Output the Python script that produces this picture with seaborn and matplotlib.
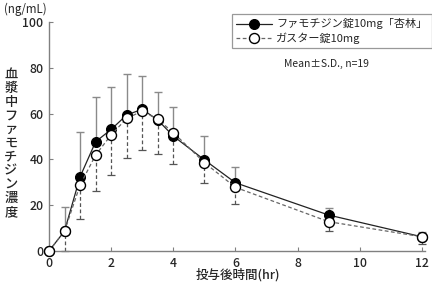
import matplotlib
matplotlib.use("Agg")
import matplotlib.pyplot as plt
import seaborn as sns
import pandas as pd
import numpy as np

times = [0, 0.5, 1, 1.5, 2, 2.5, 3, 3.5, 4, 5, 6, 9, 12]
kyorin_mean = [0, 8.7, 32.4, 47.7, 53.1, 59.4, 61.9, 57.2, 50.2, 39.8, 29.8, 15.7, 6.2]
kyorin_sd = [0, 10.4, 19.4, 19.4, 18.4, 17.9, 14.7, 12.2, 12.6, 10.3, 7.0, 3.2, 2.2]
gaster_mean = [0, 8.7, 28.8, 41.9, 50.7, 57.9, 61.1, 57.5, 51.7, 38.6, 27.8, 12.8, 6.2]
gaster_sd = [0, 8.5, 14.8, 15.7, 17.5, 17.1, 17.0, 15.1, 13.8, 9.0, 7.4, 4.1, 3.2]
series_names = ["ファモチジン錠10mg「杏林」", "ガスター錠10mg"]
x_ticks = [0, 2, 4, 6, 8, 10, 12]
y_ticks = [0, 20, 40, 60, 80, 100]

sns.set_style("white")
plt.rcParams['font.family'] = ['Noto Sans CJK JP', 'DejaVu Sans']

fig = plt.figure(figsize=(4.32, 2.88), dpi=100)
ax = fig.add_axes([49/432, 1-251/288, (425-49)/432, (251-22)/288])

df = pd.DataFrame({
    "time": times * 2,
    "conc": kyorin_mean + gaster_mean,
    "series": [series_names[0]] * len(times) + [series_names[1]] * len(times),
})

e1 = ax.errorbar(times, kyorin_mean, yerr=[np.zeros(len(times)), kyorin_sd], fmt='none',
                 ecolor='#8a8a8a', elinewidth=1.0, capsize=3, capthick=1.0, zorder=2, clip_on=False)
e2 = ax.errorbar(times, gaster_mean, yerr=[gaster_sd, np.zeros(len(times))], fmt='none',
                 ecolor='#555555', elinewidth=0.9, capsize=3, capthick=0.9, zorder=2, clip_on=False)
e2[2][0].set_linestyle((0, (3, 2)))

sns.lineplot(data=df[df.series == series_names[0]], x="time", y="conc", ax=ax,
             color='#222222', linewidth=0.9, marker='o', markersize=7.2,
             markerfacecolor='black', markeredgecolor='black', label=series_names[0],
             zorder=3, clip_on=False)
sns.lineplot(data=df[df.series == series_names[1]], x="time", y="conc", ax=ax,
             color='#666666', linewidth=0.9, linestyle=(0, (3, 2)), marker='o', markersize=7.2,
             markerfacecolor='white', markeredgecolor='black', markeredgewidth=1.0,
             label=series_names[1], zorder=4, clip_on=False)

ax.set_xlim(0, 12.1)
ax.set_ylim(0, 100)
ax.set_xticks(x_ticks)
ax.set_yticks(y_ticks)
ax.set_xlabel("")
ax.set_ylabel("")
for s in ["top", "right"]:
    ax.spines[s].set_visible(False)
for s in ["left", "bottom"]:
    ax.spines[s].set_color('#808080')
    ax.spines[s].set_linewidth(1.0)
ax.tick_params(axis='both', direction='in', length=3, width=0.8, color='#808080',
               labelsize=8.8, pad=4, left=True, bottom=True)
for lbl in ax.get_xticklabels() + ax.get_yticklabels():
    lbl.set_fontweight('medium')

leg = ax.legend(loc='upper left', bbox_to_anchor=((232-49)/376, 1 + 8/229), frameon=True,
                fancybox=False, fontsize=8, handlelength=3.2, borderpad=0.4,
                labelspacing=0.25, handletextpad=0.4, borderaxespad=0)
leg.get_frame().set_edgecolor('#808080')
leg.get_frame().set_linewidth(0.9)

fig.text(327/432, 1-64/288, "Mean±S.D., n=19", ha='center', va='center', fontsize=7.5)
fig.text(4/432, 1-9/288, "(ng/mL)", ha='left', va='center', fontsize=8.3)
fig.text(238/432, 1-275/288, "投与後時間(hr)", ha='center', va='center', fontsize=9, fontweight='medium')
ylabel = "血漿中ファモチジン濃度"
fig.text(11/432, 1-143/288, "\n".join(ylabel), ha='center', va='center', fontsize=9.5,
         linespacing=0.98, fontweight='medium')

fig.savefig("out.png", dpi=100)
